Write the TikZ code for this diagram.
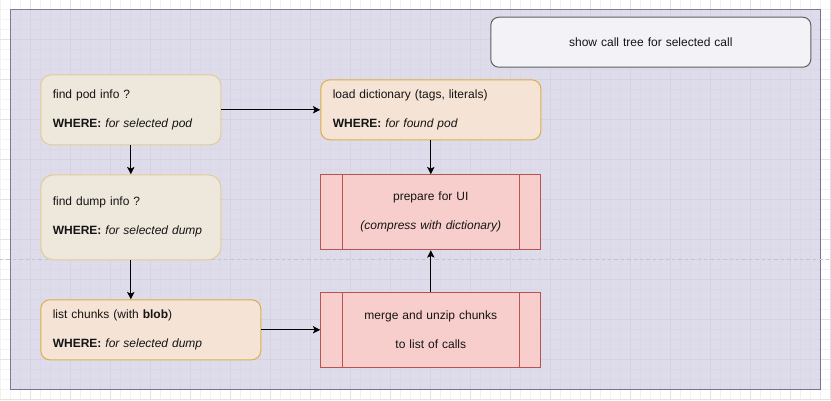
\documentclass[tikz,border=0pt]{standalone}
\usepackage{fontspec}
\setmainfont{Liberation Sans}
\usetikzlibrary{arrows.meta}
\definecolor{gridminor}{RGB}{242,242,242}
\definecolor{gridmajor}{RGB}{226,226,226}
\definecolor{lav}{RGB}{208,206,226}
\definecolor{lavline}{RGB}{86,81,126}
\definecolor{yfill}{RGB}{238,231,220}
\definecolor{yline}{RGB}{224,204,150}
\definecolor{ofill}{RGB}{245,227,213}
\definecolor{oline}{RGB}{217,175,71}
\definecolor{rfill}{RGB}{248,206,204}
\definecolor{rline}{RGB}{184,84,80}
\definecolor{gfill}{RGB}{243,242,246}
\definecolor{gline}{RGB}{95,95,95}
\definecolor{txt}{RGB}{20,20,20}
\definecolor{dashc}{RGB}{196,196,208}
\tikzset{
  base/.style={draw, line width=0.75pt, anchor=north west, inner ysep=0pt,
    font=\fontsize{9}{21.75}\selectfont, text=txt},
  notebox/.style={base, align=left, inner xsep=9pt},
  beige/.style={notebox, fill=yfill, draw=yline},
  peach/.style={notebox, fill=ofill, draw=oline},
  procbox/.style={base, fill=rfill, draw=rline, align=center, inner xsep=0pt,
    text width=165pt, minimum height=56.25pt},
  grey/.style={base, fill=gfill, draw=gline, align=center, inner xsep=0pt,
    text width=240pt, minimum height=37.5pt, rounded corners=6pt},
  panel/.style={anchor=north west, fill=lav, fill opacity=0.7, draw=lavline,
    draw opacity=0.75, line width=0.75pt, inner sep=0pt},
  arr/.style={line width=0.75pt, -{Stealth[length=5.5pt, width=5.5pt, inset=1.2pt]}},
}
\begin{document}
\begin{tikzpicture}[x=0.75pt, y=-0.75pt]
\useasboundingbox (0,0) rectangle (831,400);
\fill[white] (0,0) rectangle (831,400);
% grid
\foreach \x in {0.5,10.5,...,830.5}
  \draw[gridminor, line width=0.75pt] (\x,0) -- (\x,400);
\foreach \y in {-0.5,9.5,...,399.5}
  \draw[gridminor, line width=0.75pt] (0,\y) -- (831,\y);
\foreach \x in {30.5,70.5,...,830.5}
  \draw[gridmajor, line width=0.75pt] (\x,0) -- (\x,400);
\foreach \y in {39.5,79.5,...,399.5}
  \draw[gridmajor, line width=0.75pt] (0,\y) -- (831,\y);

% container
\node[panel, minimum width=607.5pt, minimum height=285pt] (frame) at (10.3,9.3) {};

% page break line
\coordinate (pbl) at (0,259.5);
\coordinate (pbr) at (831,259.5);
\draw[dashc, line width=0.75pt, dash pattern=on 2.6pt off 2.2pt] (pbl) -- (pbr);

% nodes
\node[beige, text width=117pt, minimum height=52.5pt, rounded corners=7.9pt] (pod) at (40.3,74.3)
  {find pod info ?\\\textbf{WHERE:} \textit{for selected pod}};
\node[beige, text width=117pt, minimum height=63.75pt, rounded corners=9.5pt] (dump) at (40.3,174.3)
  {find dump info ?\\\textbf{WHERE:} \textit{for selected dump}};
\node[peach, text width=147pt, minimum height=45pt, rounded corners=6.75pt] (list) at (40.3,299.3)
  {list chunks (with \textbf{blob})\\\textbf{WHERE:} \textit{for selected dump}};
\node[peach, text width=147pt, minimum height=45pt, rounded corners=6.75pt] (load) at (320.3,79.3)
  {load dictionary (tags, literals)\\\textbf{WHERE:} \textit{for found pod}};
\node[procbox] (prep) at (320.3,174.3)
  {prepare for UI\\\textit{(compress with dictionary)}};
\node[procbox] (merge) at (320.3,292)
  {merge and unzip chunks\\to list of calls};
\node[grey] (tree) at (490.3,16.7) {show call tree for selected call};

% process side bars
\foreach \n in {prep,merge}{
  \draw[rline, line width=0.75pt] ([xshift=16.5pt]\n.north west) -- ([xshift=16.5pt]\n.south west);
  \draw[rline, line width=0.75pt] ([xshift=-16.5pt]\n.north east) -- ([xshift=-16.5pt]\n.south east);
}

% connectors
\draw[arr] (pod.east) -- (load.west);
\draw[arr] (pod.south) -- (dump.north);
\draw[arr] (dump.south) -- (dump.south |- list.north);
\draw[arr] (list.east) -- (list.east -| merge.west);
\draw[arr] (merge.north) -- (prep.south);
\draw[arr] (load.south) -- (prep.north);
\end{tikzpicture}
\end{document}
